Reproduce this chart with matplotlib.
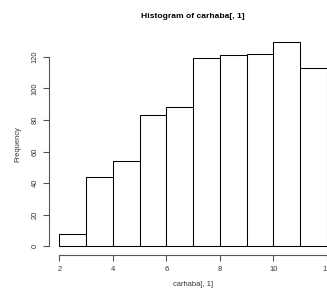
import numpy as np
import matplotlib
matplotlib.use("Agg")
import matplotlib.pyplot as plt

plt.rcParams['font.family'] = ['Liberation Sans', 'DejaVu Sans']

# histogram of carhaba[, 1]: bin edges and counts
bin_edges = [2, 3, 4, 5, 6, 7, 8, 9, 10, 11, 12]
counts = [8, 44, 54, 83, 88, 119, 121, 122, 129, 113]
x_ticks = [2, 4, 6, 8, 10, 12]
y_ticks = [0, 20, 40, 60, 80, 100, 120]

fig = plt.figure(figsize=(3.27, 2.89), dpi=100)
# R plot region, runs past the right edge of the image
ax = fig.add_axes([48.6 / 327, 34.5 / 289, (337.5 - 48.6) / 327, (254.5 - 34.3) / 289])

lefts = np.array(bin_edges[:-1])
widths = np.diff(bin_edges)
ax.bar(lefts, counts, width=widths, align='edge', facecolor='white',
       edgecolor='black', linewidth=0.75)

ax.set_xlim(1.6, 12.4)
ax.set_ylim(-0.04 * 129, 129 * 1.04)

for s in ['top', 'right']:
    ax.spines[s].set_visible(False)
ax.spines['left'].set_bounds(0, 120)
ax.spines['bottom'].set_bounds(2, 12)
for s in ['left', 'bottom']:
    ax.spines[s].set_color('#555555')
    ax.spines[s].set_linewidth(0.8)

ax.set_xticks(x_ticks)
ax.set_yticks(y_ticks)
ax.set_xticklabels([str(v) for v in x_ticks])
ax.set_yticklabels([str(v) for v in y_ticks], rotation=90, va='center')
ax.tick_params(axis='both', direction='out', length=4, width=0.8, color='#555555',
               labelsize=5.4, labelcolor='#333333')
ax.tick_params(axis='x', pad=4)
ax.tick_params(axis='y', pad=3)

# title centred over the plot region, like R's main=
fig.text(193 / 327, 1 - 16.7 / 289, 'Histogram of carhaba[, 1]', fontsize=6.1,
         fontweight='bold', ha='center', va='center')
ax.set_xlabel('carhaba[, 1]', fontsize=5.4, color='#333333')
ax.set_ylabel('Frequency', fontsize=5.4, color='#333333')
ax.xaxis.set_label_coords((193 - 48.6) / (337.5 - 48.6), -(285 - 254.5) / (254.5 - 34.3))
ax.yaxis.set_label_coords(-(48.6 - 18) / (337.5 - 48.6), 0.5)
ax.xaxis.label.set_va('center')
ax.yaxis.label.set_va('center')

plt.savefig("out.png", dpi=100)
